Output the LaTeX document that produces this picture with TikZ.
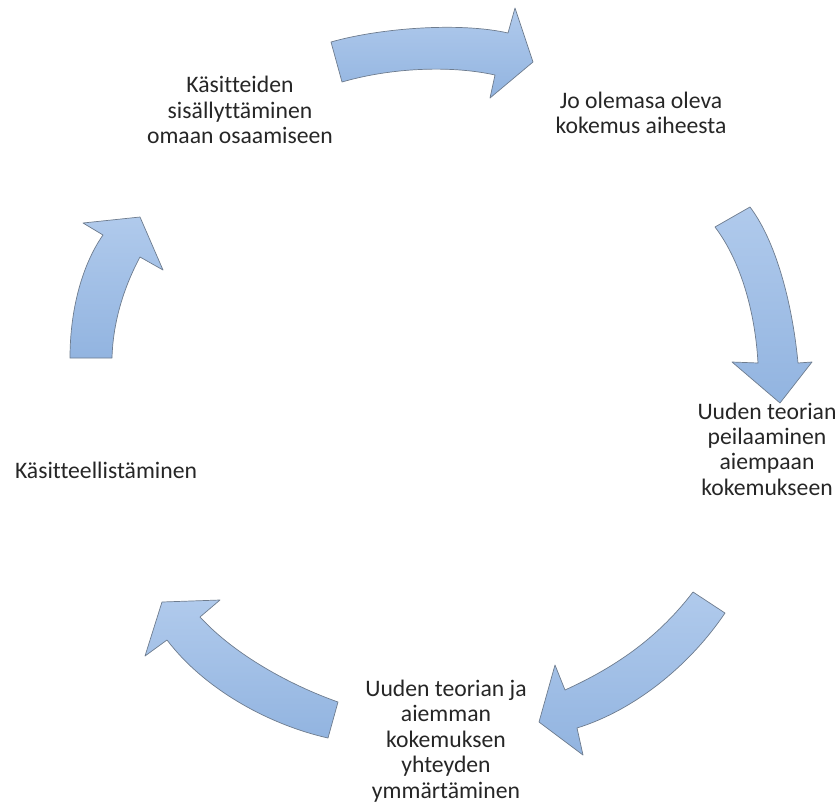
\documentclass[tikz,border=0pt]{standalone}
\usepackage{fontspec}
\setmainfont[Ligatures=NoCommon]{Carlito}
\usepackage{xcolor}
\definecolor{arrowtop}{RGB}{176,202,236}
\definecolor{arrowbot}{RGB}{146,180,224}
\definecolor{arrowline}{RGB}{110,124,142}
\tikzset{
  cyclearrow/.style={draw=arrowline, line width=0.6pt, line join=round,
    top color=arrowtop, bottom color=arrowbot},
  steptext/.style={align=center, inner sep=0pt, text=black!85,
    font=\fontsize{20.2}{21.7}\selectfont}
}

\begin{document}
\begin{tikzpicture}[x=0.03cm, y=-0.03cm]
\useasboundingbox (0,0) rectangle (838,803);
% step texts
\node[steptext] (kayttoon) at (240,110) {Käsitteiden\\sisällyttäminen\\omaan osaamiseen};
\node[steptext] (kokemus) at (641,113) {Jo olemasa oleva\\kokemus aiheesta};
\node[steptext] (peilaus) at (767,449) {Uuden teorian\\peilaaminen\\aiempaan\\kokemukseen};
\node[steptext] (yhteys) at (446,741) {Uuden teorian ja\\aiemman\\kokemuksen\\yhteyden\\ymmärtäminen};
\node[steptext] (kasitteet) at (106,470) {Käsitteellistäminen};
% curved arrows
\draw[cyclearrow] (331,42) .. controls (380,28) and (460,22) .. (508,33) -- (515,8) -- (533,62)
  -- (490,98) -- (495,75) .. controls (450,65) and (390,68) .. (342,82) -- cycle;
\draw[cyclearrow] (750,207) .. controls (775,240) and (792,300) .. (798,363) -- (812,362) -- (780,403)
  -- (732,362) -- (758,363) .. controls (755,310) and (740,260) .. (715,227) -- cycle;
\draw[cyclearrow] (693,592) .. controls (660,635) and (620,665) .. (565,690) -- (555,665) -- (539,722)
  -- (583,755) -- (577,728) .. controls (635,710) and (690,665) .. (725,613) -- cycle;
\draw[cyclearrow] (338,702) .. controls (290,685) and (235,655) .. (200,617) -- (220,600) -- (162,602)
  -- (145,656) -- (167,640) .. controls (205,690) and (270,725) .. (328,738) -- cycle;
\draw[cyclearrow] (70,358) .. controls (70,310) and (82,265) .. (103,235) -- (83,223) -- (140,217)
  -- (163,270) -- (140,257) .. controls (125,285) and (113,320) .. (112,358) -- cycle;
\end{tikzpicture}
\end{document}
